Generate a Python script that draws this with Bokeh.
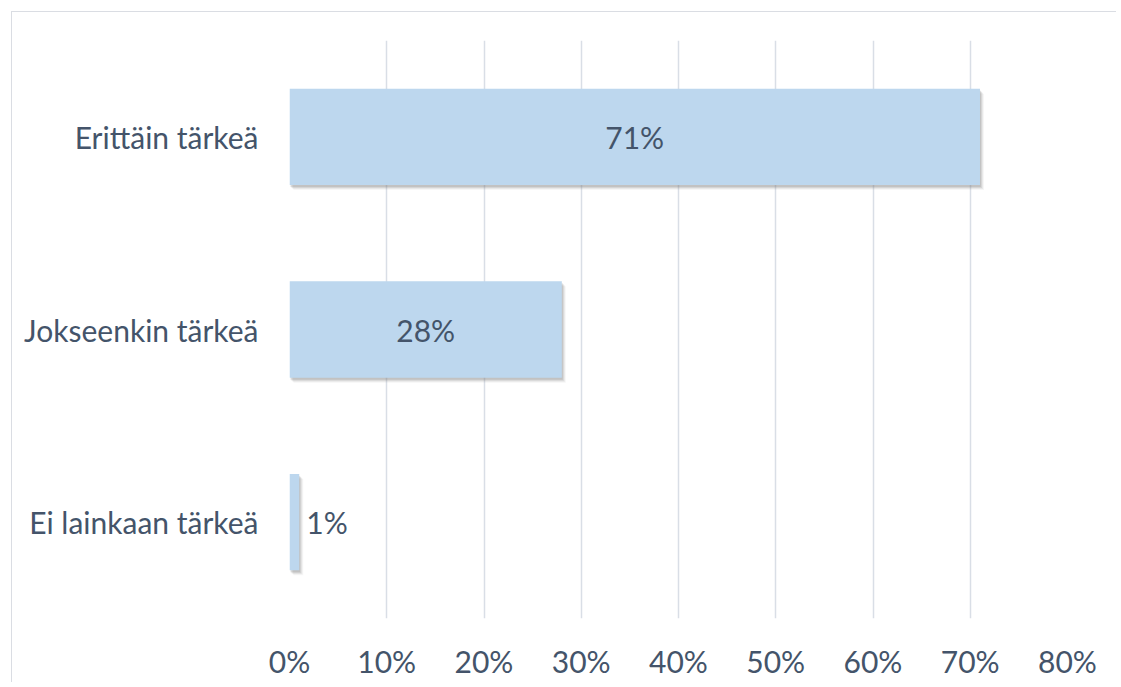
from bokeh.plotting import figure
from bokeh.models import FactorRange, FixedTicker, CustomJSTickFormatter, ColumnDataSource
from bokeh.transform import dodge
from bokeh.core.properties import value
from bokeh.embed import file_html
from bokeh.resources import INLINE

categories = ["Erittäin tärkeä", "Jokseenkin tärkeä", "Ei lainkaan tärkeä"]
shares = [71, 28, 1]
share_labels = ["71%", "28%", "1%"]
x_ticks = [0, 10, 20, 30, 40, 50, 60, 70, 80]

FONT = "Lato"
FSIZE = "30px"
TEXT_COLOR = "#44546A"
BAR_COLOR = "#BDD7EE"
GRID_COLOR = "#D9DEE6"

W, H = 1105, 671
ML, MR, MT, MB = 277, 50, 28, 65

p = figure(
    width=W, height=H,
    y_range=FactorRange(factors=list(reversed(categories)), range_padding=0),
    x_range=(0, 80),
    output_backend="svg", toolbar_location=None,
    min_border_left=ML, min_border_right=MR, min_border_top=MT, min_border_bottom=MB,
)
p.margin = (11, 0, 0, 11)
p.styles = {"border-left": "1px solid #DADDE3", "border-top": "1px solid #DADDE3"}
p.outline_line_color = None
p.background_fill_color = "white"
p.border_fill_color = "white"

# px -> data conversions for small shadow offsets
frame_w = W - ML - MR
frame_h = H - MT - MB
px_x = 80 / frame_w
px_y = 3 / frame_h

src = ColumnDataSource(dict(cat=categories, v=shares, lab=share_labels))

# soft shadow layers
for dx, dy, a in [(4, 5, 0.07), (3, 4, 0.12), (2, 3, 0.18), (1, 2, 0.22)]:
    ssrc = ColumnDataSource(dict(cat=categories, l=[dx * px_x] * len(shares),
                                 r=[v + dx * px_x for v in shares]))
    p.hbar(y=dodge("cat", -dy * px_y, range=p.y_range), left="l", right="r",
           height=0.5, source=ssrc, fill_color="#808080", fill_alpha=a, line_color=None)

p.hbar(y="cat", left=0, right="v", height=0.5, source=src,
       fill_color=BAR_COLOR, line_color=None)

# data labels: centred inside long bars, just right of very short ones
inside = [v >= 5 for v in shares]
lab_src_in = ColumnDataSource(dict(
    x=[v / 2 for v, i in zip(shares, inside) if i],
    cat=[c for c, i in zip(categories, inside) if i],
    t=[l for l, i in zip(share_labels, inside) if i]))
lab_src_out = ColumnDataSource(dict(
    x=[v for v, i in zip(shares, inside) if not i],
    cat=[c for c, i in zip(categories, inside) if not i],
    t=[l for l, i in zip(share_labels, inside) if not i]))
p.text(x="x", y="cat", text="t", source=lab_src_in, text_align="center",
       text_baseline="middle", text_font=value(FONT), text_font_size=FSIZE,
       text_color=TEXT_COLOR)
p.text(x="x", y="cat", text="t", source=lab_src_out, text_align="left",
       text_baseline="middle", x_offset=7, text_font=value(FONT),
       text_font_size=FSIZE, text_color=TEXT_COLOR)

# axes
p.xaxis.ticker = FixedTicker(ticks=x_ticks)
p.xaxis.formatter = CustomJSTickFormatter(code="return tick + '%';")
for ax in (p.xaxis, p.yaxis):
    ax.axis_line_color = None
    ax.major_tick_line_color = None
    ax.minor_tick_line_color = None
    ax.major_tick_out = 0
    ax.major_tick_in = 0
    ax.major_label_text_font = FONT
    ax.major_label_text_font_size = FSIZE
    ax.major_label_text_color = TEXT_COLOR
p.xaxis.major_label_standoff = 24
p.yaxis.major_label_standoff = 31

p.ygrid.grid_line_color = None
p.xgrid.ticker = FixedTicker(ticks=x_ticks)
p.xgrid.grid_line_color = GRID_COLOR
p.xgrid.grid_line_width = 1.5

open("out.html", "w").write(file_html(p, INLINE))
